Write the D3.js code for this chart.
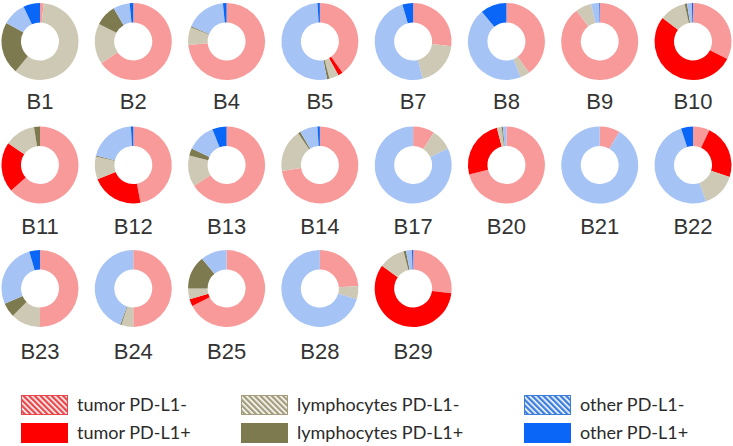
<!DOCTYPE html>
<html>
<head>
<meta charset="utf-8">
<script src="https://cdn.jsdelivr.net/npm/d3@7"></script>
<style>
  body { margin: 0; background: #fff; }
  svg { display: block; }
</style>
</head>
<body>
<svg id="chart" width="733" height="446"></svg>
<script>
// sample names, in reading order (8 per row)
var samples = ["B1","B2","B4","B5","B7","B8","B9","B10",
               "B11","B12","B13","B14","B17","B20","B21","B22",
               "B23","B24","B25","B28","B29"];

// cell type shares per sample (%)
var tumorNeg = [1.5,65.5,73.5,40,27,40,89.7,32.5, 63.5,47,66,72.5,9,71,8.5,7, 50,50,67.5,24,27];
var tumorPos = [0,0,0,2,0,0,0,53, 21,22,0,0,0,25,0,23, 0,0,3,0,58];
var lymphNeg = [59.5,17,7.5,4,19,4,6.7,11, 13,9.5,13,18,9,2,0,14.5, 12.5,5,4.5,5.5,11];
var lymphPos = [22,9,0.5,1,0,0,0,1, 2.5,0.5,3,1,0,0.5,0,0, 6,0.5,14,0,1];
var otherNeg = [10,7,17,52,49.5,45,3.3,2, 0,20,12,7.5,82,1.5,91.5,50.5, 27,44.5,11,70.5,2.5];
var otherPos = [7,1.5,1.5,1,4.5,11,0.3,0.5, 0,1,6,1,0,0,0,5, 4.5,0,0,0,0.5];

var seriesNames = ["tumor PD-L1-","tumor PD-L1+","lymphocytes PD-L1-",
                   "lymphocytes PD-L1+","other PD-L1-","other PD-L1+"];
var seriesColors = ["#f89a9a","#ff0000","#cdc9b5","#7e7a4f","#a6c3f5","#0a66f7"];
var stripeColors = ["#e8484c", null, "#a39d7c", null, "#3d7ddc", null];

var series = [tumorNeg, tumorPos, lymphNeg, lymphPos, otherNeg, otherPos];

var svg = d3.select("#chart");
var defs = svg.append("defs");

// diagonal hatch patterns for the legend swatches
stripeColors.forEach(function(c, i){
  if (!c) return;
  var p = defs.append("pattern")
    .attr("id", "hatch" + i)
    .attr("patternUnits", "userSpaceOnUse")
    .attr("width", 4).attr("height", 4)
    .attr("patternTransform", "rotate(-45)");
  p.append("rect").attr("width", 4).attr("height", 4).attr("fill", "#fff");
  p.append("rect").attr("width", 2.4).attr("height", 4).attr("fill", c);
});

var nCols = 8;
var x = d3.scaleLinear().domain([0, nCols - 1]).range([40, 693]);
var y = d3.scaleLinear().domain([0, 1]).range([41.5, 165]);

var outerR = 38.5, innerR = 19;

var pie = d3.pie().sort(null).value(function(d){ return d; });
var arc = d3.arc().innerRadius(innerR).outerRadius(outerR);

var donuts = svg.selectAll("g.donut")
  .data(samples)
  .enter().append("g")
  .attr("class", "donut")
  .attr("transform", function(d, i){
    return "translate(" + x(i % nCols) + "," + y(Math.floor(i / nCols)) + ")";
  });

donuts.selectAll("path")
  .data(function(d, i){
    return pie(series.map(function(s){ return s[i]; }));
  })
  .enter().append("path")
  .attr("d", arc)
  .attr("fill", function(d, k){ return seriesColors[k]; });

donuts.append("text")
  .attr("y", function(d, i){ return 67.5 + Math.floor(i / nCols) * 1.5; })
  .attr("text-anchor", "middle")
  .attr("font-family", "'Liberation Sans', Arial, sans-serif")
  .attr("font-size", 22)
  .attr("fill", "#333")
  .text(function(d){ return d; });

// legend: 3 columns x 2 rows
var legX = [21, 241, 524];
var legY = [395, 423];

var leg = svg.selectAll("g.leg")
  .data(seriesNames)
  .enter().append("g")
  .attr("class", "leg")
  .attr("transform", function(d, i){
    return "translate(" + legX[Math.floor(i / 2)] + "," + legY[i % 2] + ")";
  });

leg.append("rect")
  .attr("x", 0.5).attr("y", 0.5)
  .attr("width", 46).attr("height", 19)
  .attr("fill", function(d, i){ return stripeColors[i] ? "url(#hatch" + i + ")" : seriesColors[i]; })
  .attr("stroke", function(d, i){ return stripeColors[i] || seriesColors[i]; })
  .attr("stroke-width", 1);

leg.append("text")
  .attr("x", 56)
  .attr("y", 16)
  .attr("font-family", "Lato, 'Open Sans', sans-serif")
  .attr("font-size", 18)
  .attr("fill", "#2b2b2b")
  .text(function(d){ return d; });
</script>
</body>
</html>
